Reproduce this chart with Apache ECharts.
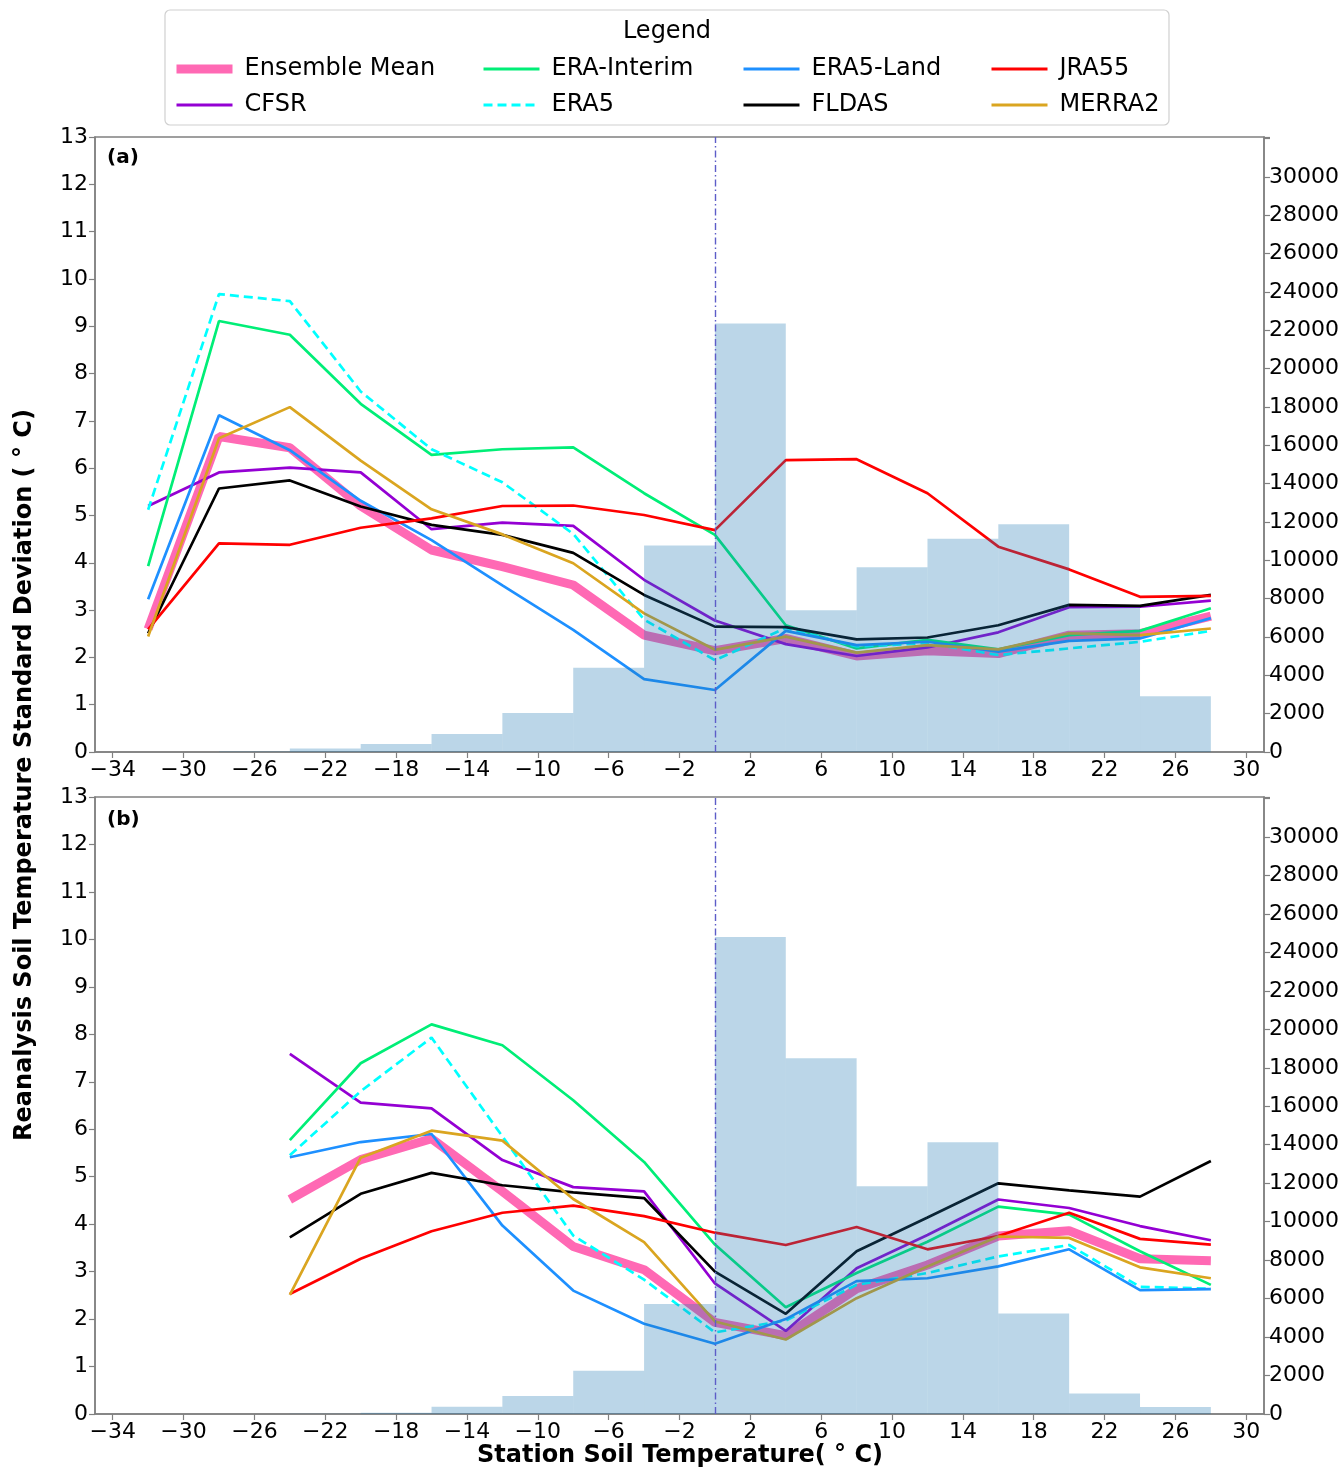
<!DOCTYPE html>
<html>
<head>
<meta charset="utf-8">
<script src="https://cdn.jsdelivr.net/npm/echarts@6/dist/echarts.min.js"></script>
<style>html,body{margin:0;padding:0;background:#fff}#chart{width:1343px;height:1469px}</style>
</head>
<body>
<div id="chart"></div>
<script>
// ---- data ----
const xPoints = [-32,-28,-24,-20,-16,-12,-8,-4,0,4,8,12,16,20,24,28];
const binStarts = [-32,-28,-24,-20,-16,-12,-8,-4,0,4,8,12,16,20,24];
const binWidth = 4;
const xTicks = [-34,-30,-26,-22,-18,-14,-10,-6,-2,2,6,10,14,18,22,26,30];
const seriesNames = ['Ensemble Mean','CFSR','ERA-Interim','ERA5','ERA5-Land','FLDAS','JRA55','MERRA2'];

// panel (a)
const a_ensemble = [2.60,6.67,6.43,5.20,4.27,3.92,3.53,2.47,2.14,2.40,2.03,2.14,2.08,2.47,2.50,2.87];
const a_cfsr     = [5.20,5.91,6.01,5.91,4.71,4.85,4.78,3.64,2.78,2.28,2.03,2.21,2.53,3.06,3.07,3.20];
const a_erai     = [3.93,9.11,8.82,7.36,6.28,6.40,6.44,5.47,4.59,2.68,2.19,2.37,2.17,2.47,2.56,3.04];
const a_era5     = [5.12,9.68,9.53,7.62,6.40,5.70,4.61,2.80,1.94,2.62,2.23,2.30,2.05,2.19,2.33,2.56];
const a_era5land = [3.23,7.12,6.38,5.31,4.48,3.52,2.58,1.54,1.31,2.56,2.26,2.33,2.12,2.35,2.40,2.83];
const a_fldas    = [2.51,5.57,5.74,5.19,4.80,4.59,4.21,3.32,2.65,2.64,2.38,2.42,2.68,3.11,3.09,3.32];
const a_jra55    = [2.59,4.41,4.38,4.74,4.94,5.20,5.21,5.01,4.69,6.17,6.19,5.47,4.34,3.86,3.28,3.30];
const a_merra2   = [2.44,6.63,7.29,6.16,5.13,4.60,3.99,2.93,2.16,2.44,2.10,2.26,2.17,2.51,2.47,2.61];
const a_counts   = [0,30,180,420,940,2030,4390,10770,22350,7390,9640,11120,11880,7550,2910];

// panel (b)
const b_ensemble = [null,null,4.52,5.36,5.80,4.69,3.53,3.04,1.93,1.65,2.64,3.14,3.75,3.86,3.27,3.23];
const b_cfsr     = [null,null,7.59,6.56,6.44,5.35,4.78,4.69,2.75,1.75,3.07,3.77,4.52,4.34,3.96,3.66];
const b_erai     = [null,null,5.77,7.39,8.21,7.77,6.61,5.31,3.57,2.25,2.97,3.63,4.37,4.20,3.43,2.72];
const b_era5     = [null,null,5.45,6.80,7.93,5.85,3.76,2.83,1.72,1.97,2.72,2.97,3.32,3.56,2.68,2.64];
const b_era5land = [null,null,5.41,5.73,5.90,3.97,2.60,1.90,1.48,2.00,2.80,2.86,3.11,3.47,2.61,2.63];
const b_fldas    = [null,null,3.72,4.64,5.08,4.82,4.67,4.55,3.00,2.11,3.43,4.14,4.86,4.71,4.58,5.33];
const b_jra55    = [null,null,2.53,3.27,3.85,4.24,4.39,4.17,3.82,3.56,3.94,3.47,3.75,4.24,3.69,3.57];
const b_merra2   = [null,null,2.51,5.40,5.97,5.76,4.53,3.62,1.95,1.57,2.44,3.11,3.74,3.71,3.09,2.86];
const b_counts   = [0,0,15,70,380,936,2250,5720,24800,18500,11840,14130,5230,1070,360];

// ---- styles ----
const FONT = 'DejaVu Sans';
const styles = {
  'Ensemble Mean': {color:'#ff69b4', width:9, type:'solid'},
  'CFSR':          {color:'#9400d3', width:2.7, type:'solid'},
  'ERA-Interim':   {color:'#00ee77', width:2.7, type:'solid'},
  'ERA5':          {color:'#00ffff', width:2.7, type:[9,5]},
  'ERA5-Land':     {color:'#1e90ff', width:2.7, type:'solid'},
  'FLDAS':         {color:'#000000', width:2.7, type:'solid'},
  'JRA55':         {color:'#ff0000', width:2.7, type:'solid'},
  'MERRA2':        {color:'#daa520', width:2.7, type:'solid'}
};
const panelA = {'Ensemble Mean':a_ensemble,'CFSR':a_cfsr,'ERA-Interim':a_erai,'ERA5':a_era5,'ERA5-Land':a_era5land,'FLDAS':a_fldas,'JRA55':a_jra55,'MERRA2':a_merra2};
const panelB = {'Ensemble Mean':b_ensemble,'CFSR':b_cfsr,'ERA-Interim':b_erai,'ERA5':b_era5,'ERA5-Land':b_era5land,'FLDAS':b_fldas,'JRA55':b_jra55,'MERRA2':b_merra2};

const minus = v => String(v).replace('-', '\u2212');
const spine = '#808080';
const tickLabel = {color:'#000', fontFamily:FONT, fontSize:22};

function xAxisFor(gi){
  return {
    type:'value', gridIndex:gi, min:-35, max:31,
    axisLine:{show:true, onZero:false, lineStyle:{color:spine, width:1.5}},
    axisTick:{show:true, length:6, lineStyle:{color:spine, width:1.2}, customValues:xTicks},
    axisLabel:Object.assign({}, tickLabel, {margin:7, formatter:minus, customValues:xTicks}),
    splitLine:{show:false}
  };
}
function yLeft(gi){
  return {
    type:'value', gridIndex:gi, min:0, max:13, interval:1, position:'left',
    axisLine:{show:true, onZero:false, lineStyle:{color:spine, width:1.5}},
    axisTick:{show:true, length:6, lineStyle:{color:spine, width:1.2}},
    axisLabel:Object.assign({}, tickLabel, {margin:7}),
    splitLine:{show:false}
  };
}
function yRight(gi){
  return {
    type:'value', gridIndex:gi, min:0, max:32080, interval:2000, position:'right',
    axisLine:{show:true, onZero:false, lineStyle:{color:spine, width:1.5}},
    axisTick:{show:true, length:6, lineStyle:{color:spine, width:1.2}},
    axisLabel:Object.assign({}, tickLabel, {margin:5, formatter: v => (v > 30000 ? '' : String(v))}),
    splitLine:{show:false}
  };
}

function barSeries(counts, xi, yi){
  return {
    type:'custom', xAxisIndex:xi, yAxisIndex:yi, z:5, silent:true,
    data: binStarts.map((s,i)=>[s, s+binWidth, counts[i]]),
    renderItem:function(params, api){
      const p0 = api.coord([api.value(0), 0]);
      const p1 = api.coord([api.value(1), api.value(2)]);
      return {type:'rect', shape:{x:p0[0], y:p1[1], width:p1[0]-p0[0], height:p0[1]-p1[1]},
              style:{fill:'rgba(31,119,180,0.3)'}};
    },
    markLine:{
      silent:true, symbol:'none', z:6,
      label:{show:false},
      lineStyle:{color:'#5d5dc8', width:1.4, type:[7,3,1.5,3]},
      data:[{xAxis:0}]
    }
  };
}

const series = [];
[[panelA,0,0],[panelB,1,2]].forEach(([panel, xi, yi])=>{
  seriesNames.forEach((name, k)=>{
    const st = styles[name];
    series.push({
      name:name, type:'line', xAxisIndex:xi, yAxisIndex:yi,
      data: xPoints.map((x,i)=>[x, panel[name][i]]),
      symbol:'none', connectNulls:false, z:2+k*0.01,
      color: st.color,
      lineStyle:{color:st.color, width:st.width, type:st.type},
      emphasis:{disabled:true}
    });
  });
});
series.push(barSeries(a_counts, 0, 1));
series.push(barSeries(b_counts, 1, 3));

const legendCols = [['Ensemble Mean','CFSR'],['ERA-Interim','ERA5'],['ERA5-Land','FLDAS'],['JRA55','MERRA2']];
const legendLeft = [172, 482, 742, 990];
const legends = legendCols.map((names, i)=>({
  data:names.map(n=>({name:n, lineStyle:{width: n === 'Ensemble Mean' ? 9 : 3}})),
  orient:'vertical', left:legendLeft[i], top:56,
  itemWidth:56, itemHeight:14, itemGap:10, padding:0,
  selectedMode:false,
  itemStyle:{opacity:0},
  textStyle:{fontFamily:FONT, fontSize:24, color:'#000', lineHeight:26, padding:[0,0,0,7]}
}));

const option = {
  animation:false,
  backgroundColor:'#fff',
  grid:[
    {left:95, top:137, width:1169, height:615, show:true, borderColor:spine, borderWidth:1.5, backgroundColor:'transparent'},
    {left:95, top:797, width:1169, height:617, show:true, borderColor:spine, borderWidth:1.5, backgroundColor:'transparent'}
  ],
  xAxis:[xAxisFor(0), xAxisFor(1)],
  yAxis:[yLeft(0), yRight(0), yLeft(1), yRight(1)],
  legend:legends,
  graphic:[
    {type:'rect', z:-1, shape:{x:165, y:10, width:1004, height:115, r:5}, style:{fill:'#fff', stroke:'#d0d0d0', lineWidth:1.2}},
    {type:'text', x:667, y:32, style:{text:'Legend', fontFamily:FONT, fontSize:24, fill:'#000', align:'center', verticalAlign:'middle'}},
    {type:'text', x:107, y:158, style:{text:'(a)', fontFamily:FONT, fontSize:20, fontWeight:'bold', fill:'#000', align:'left', verticalAlign:'middle'}},
    {type:'text', x:107, y:820, style:{text:'(b)', fontFamily:FONT, fontSize:20, fontWeight:'bold', fill:'#000', align:'left', verticalAlign:'middle'}},
    {type:'text', x:680, y:1456, style:{text:'Station Soil Temperature( \u00b0 C)', fontFamily:FONT, fontSize:24, fontWeight:'bold', fill:'#000', align:'center', verticalAlign:'middle'}},
    {type:'text', x:25, y:775, rotation:Math.PI/2, style:{text:'Reanalysis Soil Temperature Standard Deviation ( \u00b0 C)', fontFamily:FONT, fontSize:24, fontWeight:'bold', fill:'#000', align:'center', verticalAlign:'middle'}}
  ],
  series:series
};
const chart = echarts.init(document.getElementById('chart'), null, {renderer:'canvas'});
chart.setOption(option);
</script>
</body>
</html>
